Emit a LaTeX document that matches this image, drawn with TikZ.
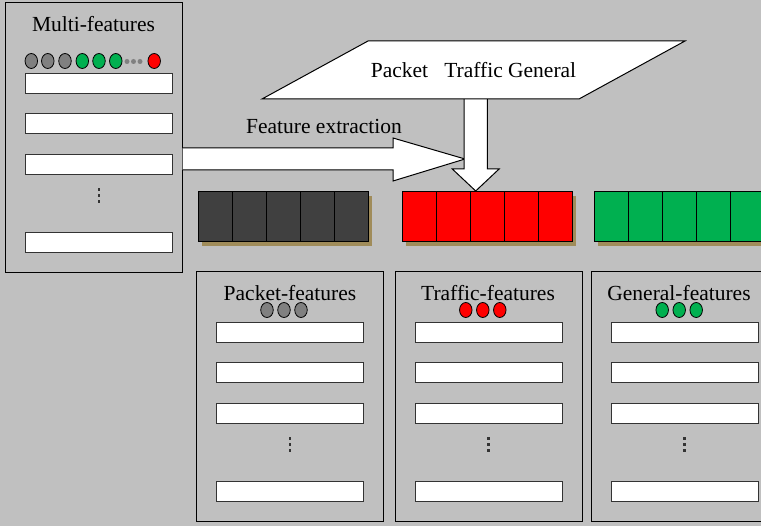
\documentclass[tikz,border=0pt]{standalone}
\usepackage{fontspec}
\setmainfont{Liberation Serif}
\usetikzlibrary{calc, positioning, shapes}

\definecolor{bggray}{HTML}{C0C0C0}
\definecolor{darkcell}{HTML}{404040}
\definecolor{redcell}{HTML}{FF0000}
\definecolor{greencell}{HTML}{00B050}
\definecolor{graydot}{HTML}{808080}
\definecolor{shadowtan}{HTML}{A08C5A}
\definecolor{barline}{HTML}{333333}

\tikzstyle{panel} = [draw, line width=1pt, minimum width=187pt, minimum height=250pt, inner sep=0]
\tikzstyle{fieldbar} = [draw=barline, fill=white, line width=0.9pt,
   minimum width=147pt, minimum height=20pt, inner sep=0]
\tikzstyle{title} = [font=\rmfamily\fontsize{21.5}{25}\selectfont, inner sep=0, anchor=base]
\tikzstyle{flag} = [draw, ellipse, line width=0.8pt, minimum width=12.5pt,
   minimum height=15pt, inner sep=0]
\tikzstyle{minidot} = [fill=graydot, circle, minimum size=5pt, inner sep=0]
\tikzstyle{vdot} = [fill=black!80, minimum width=2.5pt, minimum height=3pt, inner sep=0]
\tikzstyle{cell} = [draw, line width=1.2pt, minimum width=34pt, minimum height=50pt, inner sep=0]
\tikzstyle{bigarrow} = [draw, fill=white, line width=1pt, line join=miter]

\begin{document}
\begin{tikzpicture}[x=1pt, y=-1pt]
	  \useasboundingbox (0,0) rectangle (761,526);
	  \clip (0,0) rectangle (761,526);
	  \fill[bggray] (0,0) rectangle (761,526);

	  % input record with all the features
	  \node[panel, minimum width=177pt, minimum height=270pt] (multi) at (93.5,138) {};
	  \node[title] (multi-title) at (93.5,32) {Multi-features};
	  \foreach \x [count=\i] in {31.3,47.8,65} \node[flag, fill=graydot] (multi-g\i) at (\x,61) {};
	  \foreach \x [count=\i] in {82.3,99,115.8} \node[flag, fill=greencell] (multi-n\i) at (\x,61) {};
	  \foreach \x [count=\i] in {127,133.5,140} \node[minidot] (multi-m\i) at (\x,61.5) {};
	  \node[flag, fill=redcell] (multi-r) at (154.2,61) {};
	  \foreach \y [count=\j] in {83,123,164,242} \node[fieldbar] (multi-bar\j) at (98.5,\y) {};
	  \foreach \y [count=\j] in {190,196,202} \node[vdot] (multi-dot\j) at (99,\y) {};

	  % the three feature vectors
	  \foreach \nm/\bx/\col in {pk/198.7/darkcell, tf/402.7/redcell, gn/594.7/greencell} {
	    \fill[shadowtan] (\bx+3,195.7) rectangle (\bx+173,245.7);
	    \foreach \c in {0,...,4} \node[cell, fill=\col] (\nm-cell\c) at (\bx+17+34*\c,216.7) {};
	  }

	  % output records, one per category
	  \foreach \nm/\cx/\tx/\dx/\lbl/\col in {pk/290/290/284/Packet/graydot,
	      tf/488.5/488/482.8/Traffic/redcell, gn/684.5/679/679.2/General/greencell} {
	    \node[panel] (\nm) at (\cx,397) {};
	    \node[title] (\nm-title) at (\tx,301) {\lbl-features};
	    \foreach \k in {1,2,3} \node[flag, fill=\col] (\nm-flag\k) at (\dx+17*\k-34,310) {};
	    \foreach \y [count=\j] in {332,372,413,491.5} \node[fieldbar] (\nm-bar\j) at (\cx,\y) {};
	    \foreach \y [count=\j] in {438.5,444.5,450.5} \node[vdot] (\nm-dot\j) at (\cx,\y) {};
	  }

	  % block arrows
	  \coordinate (fx-tip) at (465,159);
	  \coordinate (dn-top) at (475.7,99);
	  \coordinate (dn-tip) at (475.7,191);
	  \draw[bigarrow] ($(multi.east |- fx-tip)+(0,-11)$) -- ($(fx-tip)+(-72,-11)$)
	    -- ($(fx-tip)+(-72,-21)$) -- (fx-tip) -- ($(fx-tip)+(-72,22)$)
	    -- ($(fx-tip)+(-72,11)$) -- ($(multi.east |- fx-tip)+(0,11)$);
	  \node[title] (fx-label) at (324,133.3) {Feature extraction};
	  \draw[bigarrow] ($(dn-top)+(-11.7,0)$) -- ($(dn-tip)+(-11.7,-22)$)
	    -- ($(dn-tip)+(-23.4,-22)$) -- (dn-tip) -- ($(dn-tip)+(23.4,-22)$)
	    -- ($(dn-tip)+(11.7,-22)$) -- ($(dn-top)+(11.7,0)$);

	  % category banner
	  \draw[bigarrow] (368,41) -- (685,41) -- (579,99) -- (262,99) -- cycle;
	  \node[title] (cats) at (473.5,77.7) {Packet~~~Traffic General};
	\end{tikzpicture}
\end{document}
